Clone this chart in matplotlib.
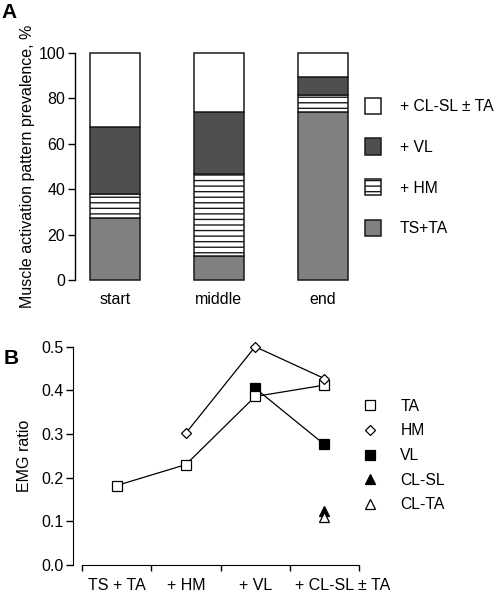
import numpy as np
import matplotlib
matplotlib.use("Agg")
import matplotlib.pyplot as plt
from matplotlib.transforms import ScaledTranslation

plt.rcParams['font.family'] = ['Liberation Sans', 'DejaVu Sans']
plt.rcParams['font.size'] = 11.5
plt.rcParams['hatch.linewidth'] = 1.0

# ---- Panel A data ----
stages = ['start', 'middle', 'end']
ts_ta = [27.5, 10.5, 74.0]
hm = [10.5, 36.0, 7.5]
vl = [29.5, 27.5, 8.0]
cl_sl_ta = [32.5, 26.0, 10.5]
pattern_labels = ['TS+TA', '+ HM', '+ VL', '+ CL-SL ± TA']

# ---- Panel B data ----
categories = ['TS + TA', '+ HM', '+ VL', '+ CL-SL ± TA']
ratio_ta = [0.182, 0.230, 0.386, 0.412]
ratio_hm = [np.nan, 0.302, 0.500, 0.427]
ratio_vl = [np.nan, np.nan, 0.405, 0.276]
ratio_cl_sl = [np.nan, np.nan, np.nan, 0.124]
ratio_cl_ta = [np.nan, np.nan, np.nan, 0.109]
yticks_b = [0.0, 0.1, 0.2, 0.3, 0.4, 0.5]
yticks_a = [0, 20, 40, 60, 80, 100]

W, H = 496, 595
fig = plt.figure(figsize=(W / 100, H / 100), dpi=100)

edge = '#1a1a1a'

# ---------------- Panel A ----------------
axA = fig.add_axes([75 / W, 1 - 280 / H, (354 - 75) / W, (280 - 53) / H])
x = np.arange(len(stages))
bw = 0.48
bottom = np.zeros(len(stages))
styles = [
    dict(color='#808080', hatch=None),
    dict(color='white', hatch='---'),
    dict(color='#4f4f4f', hatch=None),
    dict(color='white', hatch=None),
]
handles = []
for vals, st, lab in zip([ts_ta, hm, vl, cl_sl_ta], styles, pattern_labels):
    b = axA.bar(x, vals, bw, bottom=bottom, color=st['color'], edgecolor=edge,
                linewidth=1.1, hatch=st['hatch'], label=lab, clip_on=False)
    handles.append(b)
    bottom = bottom + np.array(vals)

axA.set_xlim(-0.385, 2.3)
axA.set_ylim(0, 100)
axA.set_yticks(yticks_a)
axA.spines['top'].set_visible(False)
axA.spines['right'].set_visible(False)
axA.spines['bottom'].set_visible(False)
axA.spines['left'].set_bounds(0, 100)
axA.spines['left'].set_linewidth(1.0)
axA.set_xticks(x)
axA.set_xticklabels(stages)
axA.tick_params(axis='x', length=0, pad=9)
axA.tick_params(axis='y', length=5, width=1.0, pad=2)
axA.set_ylabel('Muscle activation pattern prevalence, %', fontsize=11.5)
axA.yaxis.set_label_coords(-0.143, 0.5)

leg = axA.legend(handles[::-1], pattern_labels[::-1], loc='center left',
                 bbox_to_anchor=(365 / W, 1 - 167 / H), bbox_transform=fig.transFigure,
                 frameon=False, borderpad=0, borderaxespad=0,
                 handlelength=1.02, handleheight=1.2, handletextpad=1.2,
                 labelspacing=1.55, fontsize=11.3)

# ---------------- Panel B ----------------
axB = fig.add_axes([73 / W, 1 - 565 / H, (362.5 - 73) / W, (565 - 346.7) / H])
xc = np.arange(len(categories))
lw = 0.9
# connecting lines
for series in [ratio_ta, ratio_hm, ratio_vl]:
    axB.plot(xc, series, color='black', lw=lw, clip_on=False, zorder=2)
# markers
axB.plot(xc, ratio_ta, linestyle='none', marker='s', ms=7, mfc='white',
         mec='black', mew=0.9, label='TA', clip_on=False, zorder=4)
axB.plot(xc, ratio_hm, linestyle='none', marker='D', ms=5.2, mfc='white',
         mec='black', mew=0.9, label='HM', clip_on=False, zorder=5)
axB.plot(xc, ratio_vl, linestyle='none', marker='s', ms=6.5, mfc='black',
         mec='black', mew=0.9, label='VL', clip_on=False, zorder=3)
axB.plot(xc, ratio_cl_sl, linestyle='none', marker='^', ms=7, mfc='black',
         mec='black', mew=0.9, label='CL-SL', clip_on=False, zorder=3)
axB.plot(xc, ratio_cl_ta, linestyle='none', marker='^', ms=7, mfc='white',
         mec='black', mew=0.9, label='CL-TA', clip_on=False, zorder=4)

axB.set_xlim(-0.63, 3.55)
axB.set_ylim(0, 0.5)
axB.set_yticks(yticks_b)
axB.set_yticklabels([f'{v:.1f}' for v in yticks_b])
axB.spines['top'].set_visible(False)
axB.spines['right'].set_visible(False)
axB.spines['left'].set_bounds(0, 0.5)
axB.spines['bottom'].set_bounds(-0.5, len(categories) - 0.5)
axB.set_xticks(np.arange(len(categories) + 1) - 0.5)
axB.set_xticklabels([])
axB.set_xticks(xc, minor=True)
axB.set_xticklabels(categories, minor=True)
axB.tick_params(axis='x', which='major', length=4, width=1.0)
axB.tick_params(axis='x', which='minor', length=0, pad=9)
axB.tick_params(axis='y', length=5, width=1.0, pad=2)
axB.set_ylabel('EMG ratio', fontsize=11.5)
axB.yaxis.set_label_coords(-0.142, 0.5)

fig.canvas.draw()
labs = axB.xaxis.get_minorticklabels()
labs[-1].set_transform(labs[-1].get_transform() + ScaledTranslation(0.18, 0, fig.dpi_scale_trans))

axB.legend(loc='center left', bbox_to_anchor=(362.4 / W, 1 - 455.5 / H),
           bbox_transform=fig.transFigure, frameon=False, borderpad=0,
           borderaxespad=0, handlelength=1.0, handletextpad=1.42,
           labelspacing=0.62, numpoints=1, fontsize=11.3)

fig.text(0.003, 1 - 3 / H, 'A', fontsize=15, fontweight='bold', va='top', ha='left')
fig.text(0.008, 1 - 349 / H, 'B', fontsize=15, fontweight='bold', va='top', ha='left')

fig.savefig('out.png', dpi=100)
